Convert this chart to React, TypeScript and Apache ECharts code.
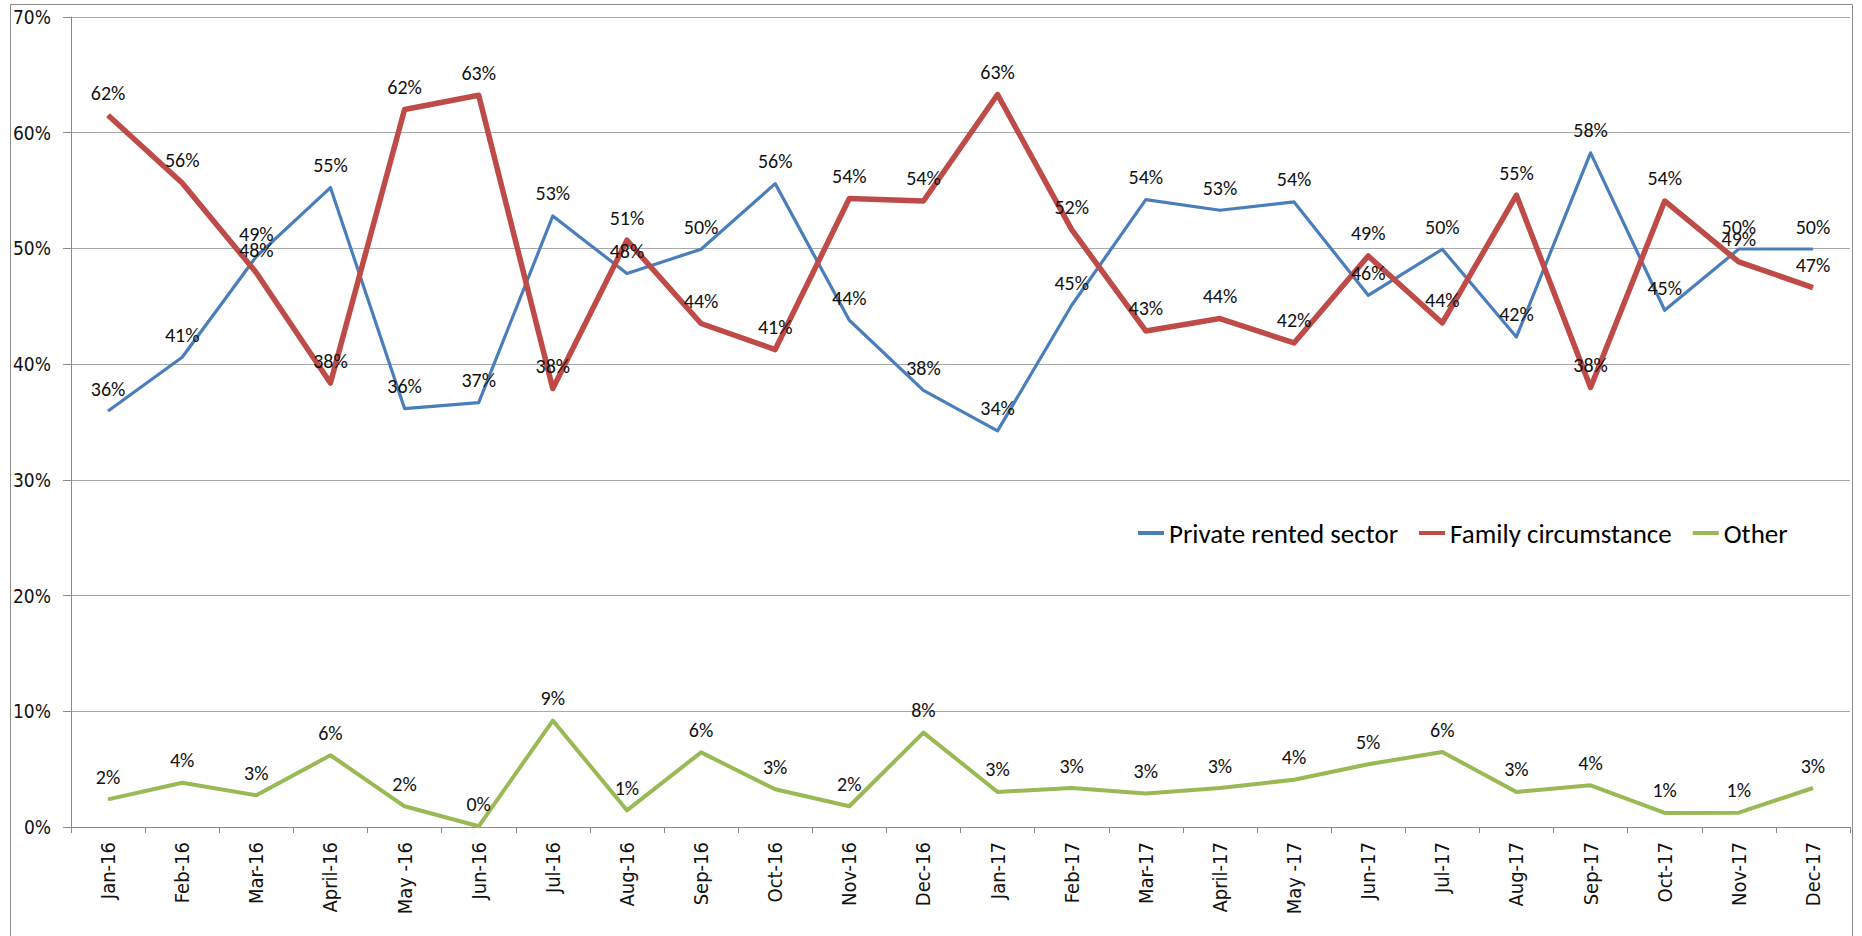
import React, { useEffect, useRef } from "react";
import * as echarts from "echarts";

const categories = [
  "Jan-16", "Feb-16", "Mar-16", "April-16", "May -16", "Jun-16", "Jul-16", "Aug-16",
  "Sep-16", "Oct-16", "Nov-16", "Dec-16", "Jan-17", "Feb-17", "Mar-17", "April-17",
  "May -17", "Jun-17", "Jul-17", "Aug-17", "Sep-17", "Oct-17", "Nov-17", "Dec-17",
];

const seriesNames = ["Private rented sector", "Family circumstance", "Other"];

const privateRented = [
  35.95, 40.6, 49.3, 55.26, 36.16, 36.68, 52.81, 47.83, 49.93, 55.6, 43.79, 37.74,
  34.23, 45.09, 54.22, 53.3, 54.02, 45.95, 49.93, 42.35, 58.26, 44.66, 49.95, 49.95,
];

const familyCircumstance = [
  61.51, 55.66, 47.9, 38.37, 62.0, 63.24, 37.89, 50.71, 43.51, 41.26, 54.31, 54.1,
  63.3, 51.63, 42.87, 43.94, 41.83, 49.35, 43.56, 54.6, 37.98, 54.1, 48.83, 46.62,
];

const other = [
  2.39, 3.83, 2.74, 6.2, 1.79, 0.06, 9.2, 1.44, 6.45, 3.26, 1.79, 8.16,
  3.03, 3.37, 2.89, 3.37, 4.09, 5.42, 6.48, 3.03, 3.6, 1.21, 1.24, 3.37,
];

const yMin = 0;
const yMax = 70;
const yStep = 10;

const colors = ["#4A7EBB", "#BE4B48", "#98B954"];
const lineWidths = [3.2, 5.5, 4];

const axisFont = "'DejaVu Sans Condensed', 'DejaVu Sans', sans-serif";
const labelFont = "Carlito, Lato, sans-serif";

export default function App() {
  const ref = useRef<HTMLDivElement>(null);

  useEffect(() => {
    if (!ref.current) return;
    const chart = echarts.init(ref.current, undefined, { renderer: "svg" });
    const data = [privateRented, familyCircumstance, other];

    chart.setOption({
      animation: false,
      backgroundColor: "#ffffff",
      color: colors,
      graphic: [
        {
          type: "rect",
          shape: { x: 10.5, y: 4.5, width: 1842, height: 1000 },
          style: { fill: "none", stroke: "#8c8c8c", lineWidth: 1 },
          silent: true,
          z: 0,
        },
      ],
      grid: { left: 71, right: 12, top: 17, bottom: 109, containLabel: false },
      legend: {
        left: 1133,
        top: 514,
        icon: "rect",
        itemWidth: 26,
        itemHeight: 4,
        itemGap: 21,
        data: seriesNames,
        textStyle: { fontFamily: labelFont, fontSize: 27, color: "#000", lineHeight: 28 },
      },
      xAxis: {
        type: "category",
        data: categories,
        boundaryGap: true,
        axisLine: { lineStyle: { color: "#8a8a8a", width: 1 } },
        axisTick: { show: true, length: 6, alignWithLabel: false, lineStyle: { color: "#8a8a8a" } },
        axisLabel: {
          rotate: 90,
          interval: 0,
          margin: 15,
          fontFamily: axisFont,
          fontSize: 20,
          color: "#111",
        },
        splitLine: { show: false },
      },
      yAxis: {
        type: "value",
        min: yMin,
        max: yMax,
        interval: yStep,
        axisLine: { show: true, lineStyle: { color: "#8a8a8a", width: 1 } },
        axisTick: { show: true, length: 8, lineStyle: { color: "#8a8a8a" } },
        axisLabel: {
          formatter: "{value}%",
          margin: 20,
          fontFamily: axisFont,
          fontSize: 19,
          color: "#111",
        },
        splitLine: { show: true, lineStyle: { color: "#a8a8a8", width: 1 } },
      },
      series: seriesNames.map((name, i) => ({
        name,
        type: "line",
        data: data[i],
        symbol: "circle",
        symbolSize: 1,
        showSymbol: true,
        lineStyle: { width: lineWidths[i], color: colors[i], join: "round" },
        itemStyle: { color: colors[i] },
        label: {
          show: true,
          position: "top",
          distance: 12,
          fontFamily: labelFont,
          fontSize: 20,
          color: "#111",
          formatter: (p: any) => Math.round(p.value) + "%",
        },
        emphasis: { disabled: true },
      })),
    });

    return () => chart.dispose();
  }, []);

  return (
    <div
      ref={ref}
      style={{ position: "absolute", left: 0, top: 0, width: 1862, height: 936 }}
    />
  );
}
